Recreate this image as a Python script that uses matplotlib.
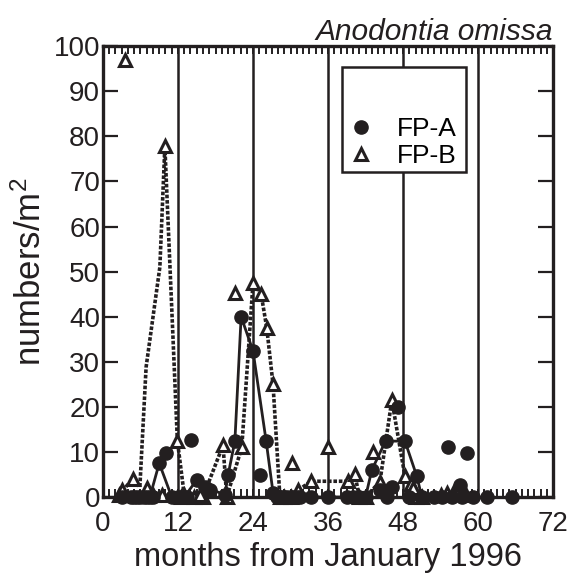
import matplotlib
matplotlib.use("Agg")
import matplotlib.pyplot as plt
from matplotlib.ticker import MultipleLocator
from matplotlib.patches import Rectangle

plt.rcParams['font.family'] = ['Liberation Sans', 'DejaVu Sans']
plt.rcParams['mathtext.fontset'] = 'custom'
plt.rcParams['mathtext.rm'] = 'Liberation Sans'
plt.rcParams['mathtext.it'] = 'Liberation Sans:italic'

# FP-A (solid line, filled circles)
a_line_months = [3, 4.5, 5.5, 6.5, 7.5, 9, 11, 12, 13, 15, 16.3, 19.5, 20, 21.1, 22.1, 24, 26.1, 27.2,
                 28, 29, 30, 31, 33.3, 36, 39, 40, 41, 42, 43, 45.2, 48.3, 50.2, 51, 53]
a_line_values = [0, 0, 0, 0, 0, 7.5, 0, 0, 0, 3.8, 2.2, 0.5, 4.8, 12.4, 40, 32.4, 12.4, 1,
                 0, 0, 0, 0, 0, 0, 0, 0, 0, 0, 6, 12.4, 12.4, 4.6, 0, 0]
a_extra_months = [5, 6, 7, 8, 10.1, 12.5, 13.5, 14.1, 17.2, 25.1, 27.8, 28.5, 29.5, 30.5, 31.5,
                  44.3, 45.5, 46.3, 47.2, 49, 54.2, 55.2, 55.8, 57.1, 57.4, 58.2, 59.2, 61.4, 65.4]
a_extra_values = [0, 0, 0, 0, 9.8, 0, 0, 12.6, 1.5, 4.9, 0, 0, 0, 0, 0,
                  1.5, 0, 2.3, 20, 0, 0, 11.1, 0, 2.6, 0, 9.8, 0, 0, 0]

# FP-B (dotted line, open triangles)
b_line_months = [2.5, 4.8, 5.9, 6.9, 9.1, 9.9, 11.9, 13, 14.5, 16, 19.2, 19.8, 22.2, 24, 25.3, 26.2,
                 27.2, 28.3, 29, 30, 31.2, 33.3, 39.2, 40.3, 41, 42, 44.3, 46.2, 48.3, 49.2, 50, 51]
b_line_values = [0.5, 4, 2.2, 28.8, 51, 77.8, 12.5, 0.5, 0, 0, 11.5, 0, 11, 47.5, 45, 37.5,
                 25, 0, 0, 0, 1.5, 3.5, 3.5, 5, 0, 0, 3.4, 21.5, 4.6, 3, 0, 0]
b_hidden = [5.9, 6.9, 9.1]
b_extra_months = [3.5, 3, 7, 8, 9.4, 12.5, 15.5, 21.1, 30.2, 36, 43.2, 49.6, 54, 55, 56, 57, 58]
b_extra_values = [96.9, 1.5, 2, 0.5, 0.5, 0, 0.5, 45.2, 7.5, 11.1, 10, 2, 0.5, 1, 1, 1.5, 0.5]

year_lines = [12, 24, 36, 48, 60]
series_names = ['FP-A', 'FP-B']

INK = '#231f20'
fig = plt.figure(figsize=(5.72, 5.77), dpi=100)
ax = fig.add_axes([0.180, 0.1386, 0.787, 0.7814])

for x in year_lines:
    ax.axvline(x, color=INK, lw=1.8, zorder=1)

ax.plot(b_line_months, b_line_values, color=INK, lw=2.6, ls=(0, (1.0, 0.5)), zorder=2)
ax.plot(a_line_months, a_line_values, color=INK, lw=2.0, ls='-', zorder=3)

b_mk_m = [m for m in b_line_months if m not in b_hidden] + b_extra_months
b_mk_v = [v for m, v in zip(b_line_months, b_line_values) if m not in b_hidden] + b_extra_values
ax.plot(b_mk_m, b_mk_v, ls='none', marker='^', ms=9, mfc='white', mec=INK, mew=2.2,
        zorder=4, clip_on=False)
ax.plot(a_line_months + a_extra_months, a_line_values + a_extra_values, ls='none', marker='o',
        ms=9.5, mfc=INK, mec=INK, zorder=5, clip_on=False)

# legend (markers only) inside a box
ax.add_patch(Rectangle((0.531, 0.7206), 0.276, 0.2324, transform=ax.transAxes, fill=True,
                       facecolor='white', edgecolor=INK, lw=1.8, zorder=9))
hA, = ax.plot([], [], ls='none', marker='o', ms=9.5, mfc=INK, mec=INK)
hB, = ax.plot([], [], ls='none', marker='^', ms=9, mfc='white', mec=INK, mew=2.2)
leg = ax.legend([hA, hB], series_names, loc='center left', bbox_to_anchor=(0.545, 0.786),
                fontsize=19, frameon=False, labelspacing=0.12, handletextpad=0.85,
                handlelength=1.0, borderaxespad=0, borderpad=0)
leg.set_zorder(10)

ax.set_xlim(0, 72)
ax.set_ylim(0, 100)
ax.xaxis.set_major_locator(MultipleLocator(12))
ax.xaxis.set_minor_locator(MultipleLocator(1))
ax.yaxis.set_major_locator(MultipleLocator(10))
ax.tick_params(axis='x', which='both', direction='in', top=True, bottom=True, length=6, width=1.4,
               labelsize=20, colors=INK, pad=10)
ax.tick_params(axis='y', which='major', direction='in', left=True, right=True, length=11, width=1.6,
               labelsize=20, colors=INK, pad=2)
for s in ax.spines.values():
    s.set_linewidth(2.4)
    s.set_color(INK)

ax.set_xlabel('months from January 1996', fontsize=23.5, color=INK, labelpad=4)
ax.set_ylabel('numbers/m$^2$', fontsize=25, color=INK, labelpad=4)
ax.set_title('Anodontia omissa', fontsize=21.5, style='italic', loc='right', color=INK, pad=2)
ax.title.set_x(1.008)

fig.savefig('out.png', dpi=100)
